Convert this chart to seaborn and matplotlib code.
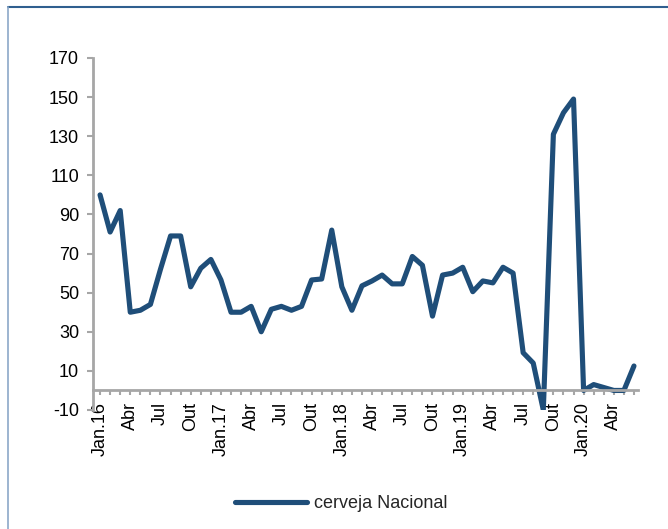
#!/usr/bin/env python3

import pandas as pd
import seaborn as sns
from matplotlib import pyplot as plt
from matplotlib.lines import Line2D
from matplotlib.ticker import MultipleLocator

# Monthly series, Jan 2016 .. Jun 2020
months = pd.date_range("2016-01-01", "2020-06-01", freq="MS")
values = [100, 81, 92, 40, 41, 44, 62, 79, 79, 53, 62.5, 67,
          56.5, 40, 40, 43, 30, 41.5, 43, 41, 43, 56.5, 57, 82,
          53, 41, 53.5, 56, 59, 54.5, 54.5, 68.5, 64, 38, 59, 60,
          63, 50.5, 56, 55, 63, 60, 19.3, 14, -10, 131, 142, 149,
          0, 3, 1.5, 0, 0, 12.5]
tick_labels = ["Jan.16", "Abr", "Jul", "Out", "Jan.17", "Abr", "Jul", "Out",
               "Jan.18", "Abr", "Jul", "Out", "Jan.19", "Abr", "Jul", "Out",
               "Jan.20", "Abr"]
series_name = "cerveja Nacional"

df = pd.DataFrame({"idx": range(len(months)), "valor": values})

sns.set_theme(style="white")
plt.rcParams["font.family"] = ["Liberation Sans", "DejaVu Sans"]
plt.rcParams["axes.unicode_minus"] = False

line_color = "#1F4E79"
axis_grey = "#A6A6A6"
fs = 13

fig = plt.figure(figsize=(6.68, 5.29), dpi=100)
ax = fig.add_axes([93 / 668, 1 - 410 / 529, (638 - 93) / 668, (410 - 58) / 529])

sns.lineplot(data=df, x="idx", y="valor", color=line_color, linewidth=3.7,
             label=series_name, ax=ax)

ax.set_xlim(-0.7, len(months) - 0.6)
ax.set_ylim(-10, 170)
ax.set_xlabel("")
ax.set_ylabel("")

for s in ["top", "right"]:
    ax.spines[s].set_visible(False)
ax.spines["bottom"].set_position(("data", 0))
for s in ["left", "bottom"]:
    ax.spines[s].set_color(axis_grey)
    ax.spines[s].set_linewidth(2)

ax.tick_params(axis="y", which="major", direction="out", length=4, width=1.5,
               color=axis_grey, labelsize=fs, pad=6, left=True, labelcolor="black")
ax.tick_params(axis="x", which="both", direction="out", length=3.5, width=1.5,
               color=axis_grey, bottom=True)
ax.tick_params(axis="x", which="major", labelsize=fs, pad=5,
               labelcolor="black", labelrotation=90)

ax.set_yticks(range(-10, 171, 20))
ax.xaxis.set_minor_locator(MultipleLocator(1))
ax.set_xticks(range(0, len(months), 3))
ax.set_xticklabels(tick_labels, rotation=90, va="top", ha="center")

ax.legend(loc="center", bbox_to_anchor=(341 / 668, 1 - 504 / 529),
          bbox_transform=fig.transFigure, frameon=False, fontsize=fs,
          handlelength=4.0, handletextpad=0.4)

# outer chart frame (cropped on right and bottom)
fig.add_artist(Line2D([8 / 668, 1], [1 - 7 / 529, 1 - 7 / 529],
                      transform=fig.transFigure, color="#2F5F8F", linewidth=1.5))
fig.add_artist(Line2D([8 / 668, 8 / 668], [0, 1 - 7 / 529],
                      transform=fig.transFigure, color="#8CA8C8", linewidth=1.2))

fig.savefig("out.png", dpi=100)
